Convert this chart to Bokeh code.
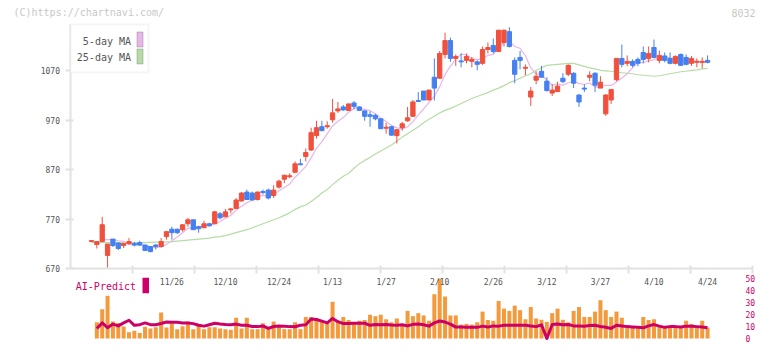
import math
from bokeh.plotting import figure
from bokeh.models import Range1d, LinearAxis, FixedTicker, Label, BoxAnnotation
from bokeh.core.properties import value
from bokeh.embed import file_html
from bokeh.resources import INLINE

NaN = float("nan")

# ---------------- data ----------------
date_labels = ["11/26", "12/10", "12/24", "1/13", "1/27", "2/10", "2/26", "3/12", "3/27", "4/10", "4/24"]
date_index = [15, 25, 35, 45, 55, 65, 75, 85, 95, 105, 115]
price_ticks = [670, 770, 870, 970, 1070]
volume_ticks = [0, 10, 20, 30, 40, 50]
legend_labels = ["5-day MA", "25-day MA"]
ai_label = "AI-Predict"

opens = [725, 719, 725, 697, 730, 722, 717, 721, 721, 723,
         718, 715, 718, 715, 735, 750, 750, 749, 761, 769,
         755, 753, 761, 761, 781, 775, 789, 792, 807, 825,
         823, 810, 826, 829, 818, 835, 851, 856, 865, 882,
         897, 910, 939, 957, 957, 971, 989, 997, 990, 1005,
         997, 989, 981, 980, 973, 954, 957, 939, 955, 969,
         978, 1010, 1029, 1011, 1057, 1055, 1103, 1131, 1095, 1090,
         1091, 1089, 1088, 1085, 1113, 1121, 1109, 1127, 1149, 1091,
         1097, 1075, 1017, 1051, 1069, 1049, 1025, 1028, 1055, 1063,
         1065, 1021, 1035, 1057, 1065, 1035, 983, 1011, 1052, 1095,
         1085, 1089, 1093, 1107, 1095, 1117, 1091, 1100, 1095, 1085,
         1103, 1097, 1085, 1087, 1087, 1091]
highs = [727, 725, 775, 720, 730, 723, 722, 732, 724, 727,
         718, 716, 720, 732, 745, 755, 751, 759, 773, 769,
         757, 767, 763, 787, 785, 791, 793, 813, 825, 830,
         826, 826, 830, 832, 839, 850, 860, 863, 887, 892,
         913, 955, 969, 969, 968, 1013, 1007, 1001, 1004, 1009,
         998, 990, 988, 983, 974, 965, 959, 952, 967, 997,
         1011, 1027, 1029, 1031, 1095, 1110, 1147, 1137, 1103, 1105,
         1105, 1098, 1091, 1119, 1127, 1135, 1152, 1153, 1158, 1097,
         1110, 1083, 1037, 1069, 1080, 1057, 1043, 1048, 1065, 1083,
         1067, 1023, 1043, 1069, 1067, 1059, 1023, 1032, 1095, 1123,
         1101, 1093, 1097, 1119, 1119, 1133, 1111, 1107, 1107, 1101,
         1105, 1103, 1100, 1095, 1097, 1101]
lows = [725, 711, 725, 672, 714, 708, 712, 719, 715, 716,
        706, 703, 709, 713, 729, 729, 740, 745, 755, 749,
        743, 752, 755, 761, 770, 775, 782, 792, 806, 810,
        808, 808, 820, 810, 813, 832, 843, 853, 863, 880,
        887, 908, 933, 948, 953, 965, 985, 989, 989, 992,
        989, 969, 957, 970, 952, 943, 939, 923, 949, 967,
        977, 1008, 1011, 1011, 1010, 1054, 1095, 1088, 1080, 1077,
        1085, 1077, 1071, 1082, 1105, 1105, 1108, 1119, 1117, 1045,
        1073, 1061, 999, 1043, 1056, 1028, 1019, 1027, 1045, 1059,
        1035, 997, 1027, 1049, 1027, 1035, 979, 1003, 1049, 1077,
        1079, 1077, 1079, 1085, 1087, 1095, 1085, 1087, 1083, 1083,
        1080, 1081, 1080, 1077, 1075, 1085]
closes = [727, 725, 759, 720, 717, 711, 721, 725, 718, 718,
          707, 705, 715, 725, 745, 743, 743, 759, 769, 749,
          751, 761, 757, 785, 773, 785, 791, 809, 823, 810,
          809, 825, 824, 813, 829, 847, 859, 858, 882, 880,
          905, 945, 955, 949, 959, 985, 993, 991, 1003, 998,
          990, 978, 978, 973, 953, 956, 940, 951, 963, 975,
          1007, 1008, 1011, 1031, 1035, 1105, 1131, 1095, 1099, 1088,
          1099, 1093, 1083, 1113, 1117, 1109, 1152, 1152, 1119, 1063,
          1091, 1077, 1029, 1059, 1057, 1030, 1031, 1039, 1048, 1081,
          1045, 1007, 1033, 1061, 1041, 1047, 1021, 1032, 1095, 1083,
          1089, 1081, 1085, 1093, 1105, 1097, 1101, 1091, 1085, 1099,
          1081, 1083, 1095, 1089, 1089, 1087]
ma5 = [NaN, NaN, 729, 729, 729.6, 726.4, 725.6, 718.8, 718.4, 718.6,
       717.8, 714.6, 712.6, 714, 719.4, 726.6, 734.2, 743, 751.8, 752.6,
       754.2, 757.8, 757.4, 760.6, 765.4, 772.2, 778.2, 788.6, 796.2, 803.6,
       808.4, 815.2, 818.2, 816.2, 820, 827.6, 834.4, 841.2, 855, 865.2,
       876.8, 894, 913.4, 926.8, 942.6, 958.6, 968.2, 975.4, 986.2, 994,
       995, 992, 989.4, 983.4, 974.4, 967.6, 960, 954.6, 952.6, 957,
       967.2, 980.8, 992.8, 1006.4, 1018.4, 1038, 1062.6, 1079.4, 1093, 1103.6,
       1102.4, 1094.8, 1092.4, 1095.2, 1101, 1103, 1114.8, 1128.6, 1129.8, 1119,
       1115.4, 1100.4, 1075.8, 1063.8, 1062.6, 1050.4, 1041.2, 1043.2, 1041, 1045.8,
       1048.8, 1044, 1042.8, 1045.4, 1037.4, 1037.8, 1040.6, 1040.4, 1047.2, 1055.6,
       1064, 1076, 1086.6, 1086.2, 1090.6, 1092.2, 1096.2, 1097.4, 1095.8, 1094.6,
       1091.4, 1087.8, 1088.6, 1089.4, 1087.4, 1088.6]
ma25 = [723, 723, 723, 723, 723, 723, 723, 723, 723, 723,
        723, 723.5, 724, 724, 724.5, 725, 726, 727, 728, 729,
        730, 731, 732, 734, 735, 737, 740, 743, 746, 749,
        753, 757, 761, 765, 769, 773, 778, 783, 790, 795,
        799, 806, 814, 823, 830, 840, 849, 857, 863, 873,
        882, 889, 895, 902, 908, 914, 920, 928, 936, 943,
        950, 957, 965, 972, 978, 985, 990, 994, 999, 1004,
        1009, 1014, 1018, 1022, 1026, 1031, 1035, 1040, 1046, 1050,
        1055, 1060, 1064, 1071, 1076, 1081, 1082, 1083, 1084, 1085,
        1085, 1082, 1079, 1076, 1074, 1071, 1070, 1069, 1067, 1066,
        1065, 1064, 1062, 1061, 1060, 1059, 1060, 1062, 1064, 1066,
        1068, 1069, 1071, 1072, 1074, 1075]
volume = [NaN, 13.5, 24.3, 35.7, 14.1, 12.9, 9.9, 5.3, 6.5, 4.6,
          9.7, 8.4, 9.3, 21.7, 9.1, 12.4, 7.8, 10.3, 14.1, 7.8,
          11, 7.8, 9.3, 9.3, 8.4, 7.8, 7.2, 17.3, 8.4, 17.3,
          7.8, 7.8, 12.7, 7.8, 14.1, 10.3, 7.8, 7.8, 13.5, 7.8,
          17.9, 17.9, 16.7, 14.1, 12.9, 30.6, 14.1, 17.9, 15.4, 12.9,
          14.8, 15.4, 19.8, 18.6, 19.8, 16, 13.5, 16.7, 12.2, 23,
          18.6, 21.1, 19.2, 14.8, 36.9, 49.6, 35, 19.2, 19.2, 11.6,
          12.2, 11.6, 13.5, 22.4, 15.4, 14.8, 31.2, 24.9, 23, 27.4,
          23.6, 16, 26.2, 16.7, 15.6, 13.9, 21.1, 24.9, 15.6, 13.5,
          23, 26.2, 17.9, 17.9, 22.4, 31.9, 23.6, 17.9, 22.4, 17.3,
          9.7, 9.7, 8.4, 17.9, 15.4, 16, 11, 10.3, 10.3, 10.3,
          10.3, 14.8, 12.2, 10.3, 14.8, 9.1]
ai_predict = [NaN, 8.4, 13, 9, 12, 10.5, 13, 15.2, 11, 11.5,
              13, 11.5, 11.5, 12.5, 13.7, 13.5, 13.5, 13, 13, 12.4,
              11, 10.3, 11.5, 12.7, 12, 11.6, 11.5, 12, 11, 11,
              10, 9.9, 10.5, 8.4, 10, 10.5, 10.3, 9.9, 9.8, 11,
              11.5, 16.2, 15.8, 14.5, 13, 16.7, 14, 12.4, 12.5, 12.7,
              12.7, 12.7, 11, 11.6, 11.4, 11.6, 11.2, 11, 11.5, 10.5,
              11.8, 12, 11.5, 10.3, 13, 14.6, 13.7, 12, 9.5, 9.5,
              9.3, 9.3, 9.3, 10.3, 9.5, 10.5, 10.3, 11, 11, 11,
              11, 11, 10.5, 9.9, 11.4, 0, 11.6, 12, 11.5, 11.6,
              10.5, 10.5, 10.3, 10.8, 11, 10, 9.3, 8.4, 11, 10.5,
              9.9, 9.6, 9.3, 8.9, 10.5, 11.6, 10.3, 9.3, 9.9, 9.9,
              9.5, 10.3, 10.3, 9.9, 9.5, 8.9]

n = len(closes)
idx = list(range(n))

# ---------------- styles / layout ----------------
RED = "#F0503C"
BLUE = "#4680F0"
PINK = "#E9B6EA"
GREEN = "#B6DCA6"
ORANGE = "#F39A3D"
CRIMSON = "#CC0066"
AXIS = "#E2E2E2"
TXT = "#555555"
MONO = "DejaVu Sans Mono"

W, H = 756, 345
PXI = 5.357       # pixels per candle
IX0 = 91.0        # pixel of first candle
PPY = 2.02        # price units per pixel
Y670 = 268.3      # pixel of the 670 level
VPX = 1.2         # pixels per volume unit
VY0 = 338.0       # pixel of volume zero


def xd(px):
    return (px - IX0) / PXI


def yd(py):
    return 670 + (Y670 - py) * PPY


X0, X1 = xd(0), xd(W)
P0, P1 = yd(H), yd(0)
V0, V1 = -(H - VY0) / VPX, VY0 / VPX

p = figure(width=W, height=H, output_backend="svg", toolbar_location=None,
           x_range=Range1d(X0, X1), y_range=Range1d(P0, P1),
           x_axis_location=None, y_axis_location=None, min_border=0)
p.extra_y_ranges = {"vol": Range1d(V0, V1)}
p.outline_line_color = None
p.xgrid.visible = False
p.ygrid.visible = False
p.background_fill_color = "white"
p.border_fill_color = "white"

# ---- volume panel ----
p.vbar(x=idx, top=volume, bottom=0, width=0.75, y_range_name="vol",
       fill_color=ORANGE, line_color=None)
p.line(x=idx, y=ai_predict, y_range_name="vol", line_color=CRIMSON, line_width=3,
       line_join="round")

# ---- moving averages ----
p.line(x=idx, y=ma25, line_color=GREEN, line_width=1.2)
p.line(x=idx, y=ma5, line_color=PINK, line_width=1.2)

# ---- candles ----
colors = [RED if c >= o else BLUE for o, c in zip(opens, closes)]
tops = [max(o, c) for o, c in zip(opens, closes)]
bots = [min(o, c) for o, c in zip(opens, closes)]
p.segment(x0=idx, y0=lows, x1=idx, y1=highs, line_color=colors, line_width=1)
p.vbar(x=idx, top=tops, bottom=bots, width=0.8, fill_color=colors, line_color=colors, line_width=1)

# ---- axes ----
yax = LinearAxis(ticker=FixedTicker(ticks=price_ticks), fixed_location=xd(70),
                 bounds=(price_ticks[0], yd(24)))
yax.axis_line_color = AXIS
yax.axis_line_width = 2
yax.major_tick_line_color = AXIS
yax.major_tick_line_width = 2
yax.major_tick_out = 5
yax.major_tick_in = 3
yax.minor_tick_line_color = None
yax.major_label_overrides = {t: "" for t in price_ticks}
p.add_layout(yax, "left")
# price tick labels, right-aligned just left of the tick marks
p.text(x=xd(70), y=price_ticks, text=[str(t) for t in price_ticks], x_offset=-10.5,
       text_align="right", text_baseline="middle", text_font=value(MONO),
       text_font_size="8px", text_color=TXT)

frame_ticks = [xd(70 + 62 * k) for k in range(1, 12)]
xax = LinearAxis(ticker=FixedTicker(ticks=frame_ticks), fixed_location=price_ticks[0],
                 bounds=(xd(70), xd(752)))
xax.axis_line_color = AXIS
xax.axis_line_width = 2
xax.major_tick_line_color = AXIS
xax.major_tick_line_width = 2
xax.major_tick_out = 5
xax.major_tick_in = 3
xax.minor_tick_line_color = None
xax.major_label_text_font_size = "0px"
xax.major_label_overrides = {t: "" for t in frame_ticks}
p.add_layout(xax, "below")

dax = LinearAxis(ticker=FixedTicker(ticks=date_index), fixed_location=yd(277))
dax.axis_line_color = None
dax.major_tick_line_color = None
dax.minor_tick_line_color = None
dax.major_tick_out = 0
dax.major_tick_in = 0
dax.major_label_standoff = 0
dax.major_label_overrides = {i: s for i, s in zip(date_index, date_labels)}
dax.major_label_text_font = MONO
dax.major_label_text_font_size = "8px"
dax.major_label_text_color = TXT
p.add_layout(dax, "below")

vax = LinearAxis(y_range_name="vol", ticker=FixedTicker(ticks=volume_ticks), fixed_location=xd(743))
vax.axis_line_color = None
vax.major_tick_line_color = None
vax.minor_tick_line_color = None
vax.major_tick_out = 0
vax.major_tick_in = 0
vax.major_label_standoff = 2
vax.major_label_text_font = MONO
vax.major_label_text_font_size = "8px"
vax.major_label_text_color = CRIMSON
p.add_layout(vax, "right")

# ---- legend box: text on the left, colour swatch on the right ----
p.add_layout(BoxAnnotation(left=xd(70), right=xd(148), top=yd(24), bottom=yd(72),
                           fill_color="white", fill_alpha=1,
                           line_color="#DDDDDD", line_width=2))
for lab, col, ytop, ybot, ymid in [(legend_labels[0], PINK, 31.5, 46.5, 40.5),
                                   (legend_labels[1], GREEN, 48.5, 63.5, 57)]:
    p.add_layout(BoxAnnotation(left=xd(136.5), right=xd(142.5), top=yd(ytop), bottom=yd(ybot),
                               fill_color=col, fill_alpha=1, line_color="#555555", line_width=1))
    p.add_layout(Label(x=xd(130.5), y=yd(ymid), text=lab, text_align="right",
                       text_baseline="middle", text_font=MONO, text_font_size="10px",
                       text_color=TXT))

p.add_layout(BoxAnnotation(left=xd(142), right=xd(148.5), top=yd(277.3), bottom=yd(292.7),
                           fill_color=CRIMSON, fill_alpha=1, line_color=None))
p.add_layout(Label(x=xd(135.5), y=yd(286), text=ai_label, text_align="right",
                   text_baseline="middle", text_font=MONO, text_font_size="10px",
                   text_color=CRIMSON))

# ---- watermark texts ----
p.add_layout(Label(x=xd(13), y=yd(12), text="(C)https://chartnavi.com/",
                   text_font=MONO, text_font_size="10px", text_color="#C8C8C8",
                   text_baseline="middle"))
p.add_layout(Label(x=xd(755), y=yd(12), text="8032",
                   text_font=MONO, text_font_size="10px", text_color="#C8C8C8",
                   text_baseline="middle", text_align="right"))

open("out.html", "w").write(file_html(p, INLINE))
